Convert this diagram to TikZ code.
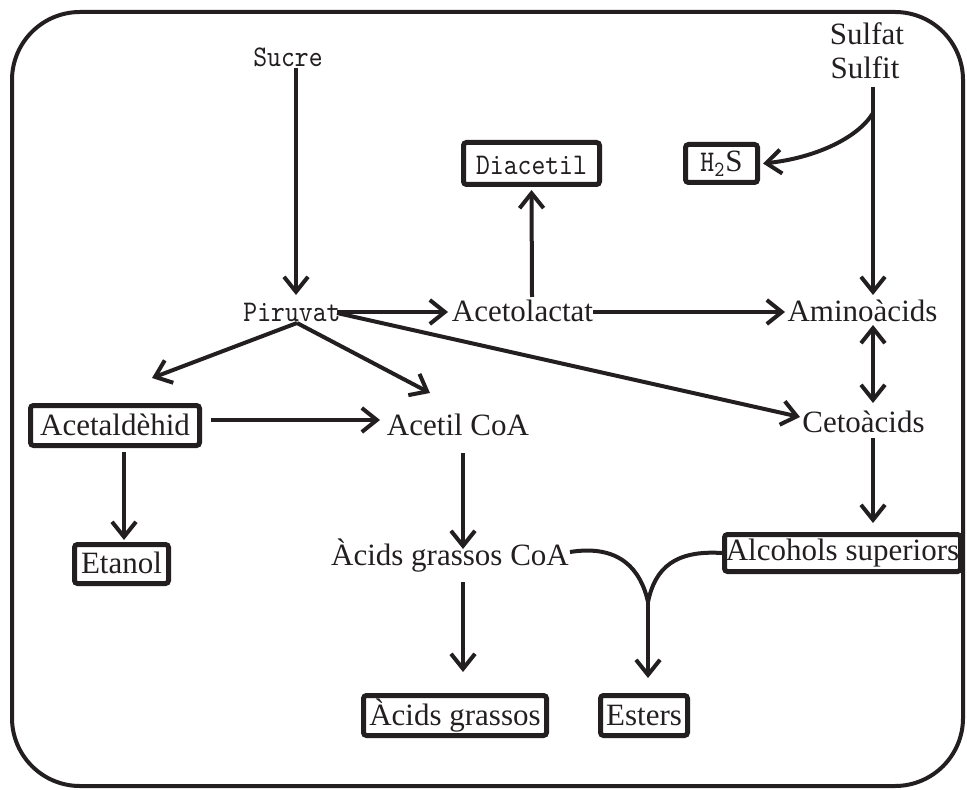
\documentclass[tikz,border=0pt]{standalone}
\usepackage{fontspec}
\setmainfont{Liberation Serif}
\newfontfamily\monof[FakeStretch=0.88]{lmmono10-regular.otf}
\usetikzlibrary{arrows.meta}
\definecolor{ink}{RGB}{35,31,32}
\begin{document}
\begin{tikzpicture}[x=0.5pt,y=-0.5pt,
  >={Straight Barb[length=7.5pt,width=12pt]},
  every node/.style={text=ink, font=\fontsize{15.5}{18}\selectfont},
  lbl/.style={inner sep=0pt, anchor=base},
  mono/.style={font=\fontsize{15}{17}\selectfont\monof},
  box/.style={draw=ink, line width=2.5pt, rounded corners=1.5pt, inner xsep=0pt, inner ysep=0pt,
              text height=14.5pt, text depth=5.25pt, anchor=base},
  arr/.style={draw=ink, line width=2pt, ->},
  ln/.style={draw=ink, line width=2pt}]
\useasboundingbox (0,0) rectangle (967,790);
\draw[ink, line width=2pt, rounded corners=34pt] (12,12) rectangle (963,786);

% nodes
\node[lbl,mono] (sucre) at (288,67) {Sucre};
\node[lbl] (sulfat) at (867,45) {Sulfat};
\node[lbl] (sulfit) at (865,79) {Sulfit};
\node[box, mono, minimum width=68pt, text height=16.25pt, text depth=4.75pt] (diacetil) at (531.5,175) {Diacetil};
\node[box, minimum width=36pt, text height=13.75pt, text depth=5.25pt] (h2s) at (721.5,172) {{\fontsize{15}{17}\selectfont\monof H}\textsubscript{\monof 2}S};
\node[lbl,mono] (piruvat) at (292,322) {Piruvat};
\node[lbl] (acetolactat) at (522.5,322) {Acetolactat};
\node[lbl] (aminoacids) at (862.5,322) {Aminoàcids};
\node[lbl] (cetoacids) at (863.5,432) {Cetoàcids};
\node[box, minimum width=84.5pt, text height=14.75pt] (acetaldehid) at (115,435) {Acetaldèhid};
\node[lbl] (acetilcoa) at (458,435) {Acetil CoA};
\node[box, minimum width=47pt, text height=14.25pt] (etanol) at (121.5,573) {Etanol};
\node[lbl] (agcoa) at (450,565) {Àcids grassos CoA};
\node[box, minimum width=118pt, text height=12.75pt, text depth=5.75pt] (alcohols) at (842.5,560) {Alcohols superiors};
\node[box, minimum width=91.5pt, text height=14.75pt] (acidsg) at (455,725) {Àcids grassos};
\node[box, minimum width=43.5pt, text height=14.75pt] (esters) at (644,725) {Esters};

% connectors
\draw[arr] ([shift={(8,1)}]sucre.base) -- ([shift={(4,-27)}]piruvat.base);
\draw[arr] ([shift={(8,8)}]sulfit.base) -- ([shift={(10.5,-27)}]aminoacids.base);
\coordinate (split) at (873,113);
\draw[arr] (split) .. controls (858,138) and (815,158) .. ([shift={(3,0)}]h2s.east);
\draw[arr] ([shift={(9.5,-25)}]acetolactat.base) -- ([yshift=-1.5pt]diacetil.south);
\draw[arr] ([shift={(45,-10)}]piruvat.base) -- ([shift={(-74.5,-10)}]acetolactat.base);
\draw[arr] ([shift={(70.5,-10)}]acetolactat.base) -- ([shift={(-77.5,-10)}]aminoacids.base);
\draw[arr] ([shift={(5,1)}]piruvat.base) -- ([shift={(37,-57)}]acetaldehid.base);
\draw[arr] ([shift={(5,1)}]piruvat.base) -- ([shift={(-28,-42)}]acetilcoa.base);
\draw[arr] ([shift={(45,-9)}]piruvat.base) -- ([shift={(-63.5,-15)}]cetoacids.base);
\draw[ln, <->] ([shift={(10.5,3)}]aminoacids.base) -- ([shift={(9.5,-29)}]cetoacids.base);
\draw[arr] ([shift={(96,-15)}]acetaldehid.base) -- ([shift={(-78,-15)}]acetilcoa.base);
\draw[arr] ([shift={(9,17)}]acetaldehid.base) -- ([shift={(2.5,-33)}]etanol.base);
\draw[arr] ([shift={(5,18)}]acetilcoa.base) -- ([shift={(13,-16)}]agcoa.base);
\draw[arr] ([shift={(9.5,6)}]cetoacids.base) -- ([shift={(30.5,-37)}]alcohols.base);
\draw[arr] ([shift={(13,17)}]agcoa.base) -- ([shift={(8,-53)}]acidsg.base);
\coordinate (vjoin) at (648,602);
\draw[ln] ([shift={(120,-13)}]agcoa.base) .. controls (620,544) and (641,570) .. (vjoin);
\draw[ln] (alcohols.west) .. controls (675,550) and (655,568) .. (vjoin);
\draw[arr] (vjoin) -- ([shift={(4,-47)}]esters.base);
\end{tikzpicture}
\end{document}
